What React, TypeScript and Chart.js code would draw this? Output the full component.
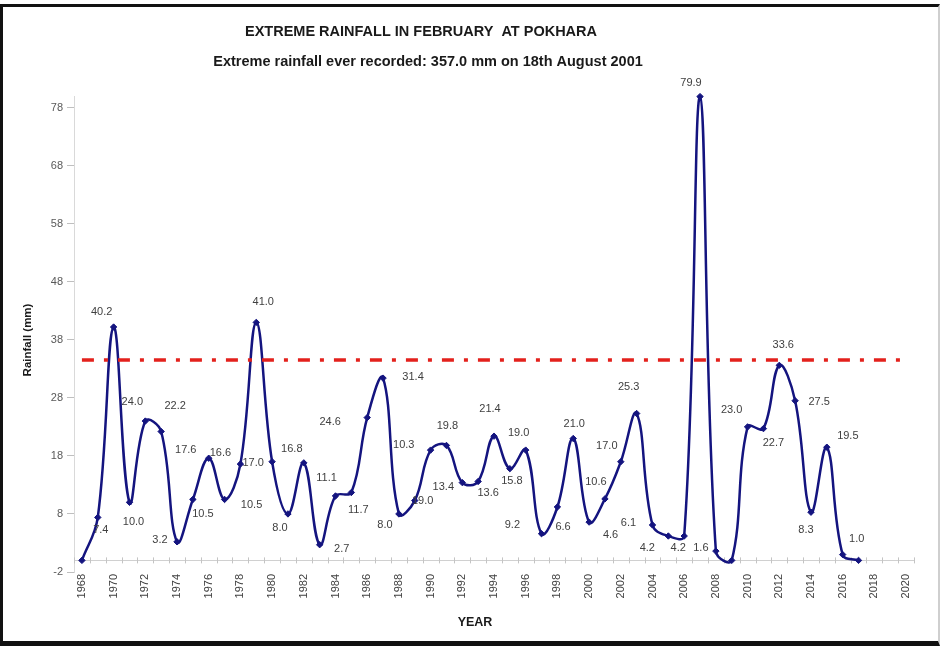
import React, { useEffect, useRef } from 'react';
import { Chart, registerables } from 'chart.js';

Chart.register(...registerables);

// ---------- data ----------
const years = [
  '1968', '1969', '1970', '1971', '1972', '1973', '1974', '1975', '1976', '1977',
  '1978', '1979', '1980', '1981', '1982', '1983', '1984', '1985', '1986', '1987',
  '1988', '1989', '1990', '1991', '1992', '1993', '1994', '1995', '1996', '1997',
  '1998', '1999', '2000', '2001', '2002', '2003', '2004', '2005', '2006', '2007',
  '2008', '2009', '2010', '2011', '2012', '2013', '2014', '2015', '2016', '2017',
  '2018', '2019', '2020',
];

// February extreme rainfall (mm), 1968 .. 2017
const rainfall = [
  0.0, 7.4, 40.2, 10.0, 24.0, 22.2, 3.2, 10.5, 17.6, 10.5,
  16.6, 41.0, 17.0, 8.0, 16.8, 2.7, 11.1, 11.7, 24.6, 31.4,
  8.0, 10.3, 19.0, 19.8, 13.4, 13.6, 21.4, 15.8, 19.0, 4.6,
  9.2, 21.0, 6.6, 10.6, 17.0, 25.3, 6.1, 4.2, 4.2, 79.9,
  1.6, 0.0, 23.0, 22.7, 33.6, 27.5, 8.3, 19.5, 1.0, 0.0,
];

const threshold = 34.5;
const thresholdSpan = ['1968', '2020'];

const yTicks = [-2, 8, 18, 28, 38, 48, 58, 68, 78];
const yMin = -2;
const yMax = 80;

const titleText = 'EXTREME RAINFALL IN FEBRUARY  AT POKHARA';
const subtitleText = 'Extreme rainfall ever recorded: 357.0 mm on 18th August 2001';
const yTitleText = 'Rainfall (mm)';
const xTitleText = 'YEAR';

// data-label placement relative to each point (px); null = no label
const labelOffsets: ([number, number] | null)[] = [
  null, [3, 13], [-12, -15], [4, 20], [-13, -19], [14, -26], [-17, -2], [10, 15], [-23, -8], [27, 6],
  [-20, -11], [7, -20], [-19, 1], [-8, 14], [-12, -14], [22, 4], [-9, -18], [7, 17], [-37, 4], [30, -1],
  [-14, 11], [-11, -56], [-8, 51], [1, -19], [-19, 4], [10, 12], [-4, -27], [2, 12], [-7, -17], [69, 1],
  [-45, 18], [1, -15], [-26, 5], [-9, -17], [-14, -16], [-8, -27], [-24, -2], [-21, 12], [-6, 12], [-9, -14],
  [-15, -3], null, [-16, -17], [10, 14], [4, -20], [24, 1], [-5, 18], [21, -11], [14, -16], null,
];

const FONT = '"Liberation Sans", Arial, sans-serif';
const NAVY = '#14147f';

const decorations = {
  id: 'decorations',
  beforeDatasetsDraw(chart: any) {
    const { ctx, chartArea, scales } = chart;
    const y0 = scales.y.getPixelForValue(0);
    ctx.save();
    ctx.strokeStyle = '#d0d0d0';
    ctx.lineWidth = 1;
    ctx.beginPath();
    ctx.moveTo(chartArea.left, Math.round(y0) + 0.5);
    ctx.lineTo(chartArea.right, Math.round(y0) + 0.5);
    ctx.stroke();
    const n = years.length;
    const step = (chartArea.right - chartArea.left) / n;
    ctx.strokeStyle = '#c4c4c4';
    ctx.beginPath();
    for (let i = 0; i <= n; i++) {
      const x = Math.round(chartArea.left + i * step) + 0.5;
      ctx.moveTo(x, y0 - 3);
      ctx.lineTo(x, y0 + 3);
    }
    ctx.stroke();
    ctx.restore();
  },
  afterDatasetsDraw(chart: any) {
    const { ctx } = chart;
    const meta = chart.getDatasetMeta(0);
    ctx.save();
    ctx.font = `11px ${FONT}`;
    ctx.fillStyle = '#404040';
    ctx.textAlign = 'center';
    ctx.textBaseline = 'middle';
    meta.data.forEach((pt: any, i: number) => {
      const off = labelOffsets[i];
      if (!off) return;
      ctx.fillText(rainfall[i].toFixed(1), pt.x + off[0], pt.y + off[1]);
    });
    ctx.restore();
  },
  afterDraw(chart: any) {
    const { ctx } = chart;
    ctx.save();
    ctx.fillStyle = '#1a1a1a';
    ctx.textAlign = 'center';
    ctx.textBaseline = 'middle';
    ctx.font = `bold 14.5px ${FONT}`;
    ctx.fillText(titleText, 421, 32);
    ctx.font = `bold 14.5px ${FONT}`;
    ctx.fillText(subtitleText, 428, 62);
    ctx.font = `bold 12.5px ${FONT}`;
    ctx.fillText(xTitleText, 475, 623);
    ctx.translate(28, 340);
    ctx.rotate(-Math.PI / 2);
    ctx.font = `bold 11.5px ${FONT}`;
    ctx.fillText(yTitleText, 0, 0);
    ctx.restore();
  },
};

export default function App() {
  const canvasRef = useRef<HTMLCanvasElement | null>(null);

  useEffect(() => {
    const canvas = canvasRef.current;
    if (!canvas) return;
    const chart = new Chart(canvas, {
      type: 'line',
      data: {
        labels: years,
        datasets: [
          {
            label: 'Rainfall',
            data: rainfall,
            borderColor: NAVY,
            backgroundColor: NAVY,
            borderWidth: 2.5,
            tension: 0.4,
            pointStyle: 'rectRot',
            pointRadius: 3.2,
            pointBackgroundColor: NAVY,
            pointBorderColor: NAVY,
            pointBorderWidth: 1,
            clip: false as any,
            order: 2,
          },
          {
            label: 'Threshold',
            data: thresholdSpan.map((x) => ({ x, y: threshold })) as any,
            borderColor: '#e3211c',
            borderWidth: 3.5,
            borderDash: [12, 10, 4, 10],
            pointRadius: 0,
            tension: 0,
            order: 1,
          },
        ],
      },
      plugins: [decorations],
      options: {
        responsive: false,
        animation: false,
        events: [],
        layout: { padding: { left: 34, right: 27, top: 96, bottom: 0 } },
        plugins: {
          legend: { display: false },
          tooltip: { enabled: false },
          title: { display: false },
        },
        scales: {
          x: {
            type: 'category',
            offset: true,
            grid: { display: false, drawTicks: false },
            border: { display: false },
            ticks: {
              autoSkip: false,
              maxRotation: 90,
              minRotation: 90,
              padding: 2,
              color: '#404040',
              font: { size: 11, family: FONT },
              callback: (_v: any, i: number) => (i % 2 === 0 ? years[i] : ''),
            },
            afterFit: (scale: any) => {
              scale.height = 74;
            },
          },
          y: {
            type: 'linear',
            min: yMin,
            max: yMax,
            afterBuildTicks: (scale: any) => {
              scale.ticks = yTicks.map((value) => ({ value }));
            },
            grid: {
              drawOnChartArea: false,
              drawTicks: true,
              tickLength: 7,
              color: '#bfbfbf',
            },
            border: { display: true, color: '#d9d9d9', width: 1 },
            ticks: {
              padding: 4,
              color: '#595959',
              font: { size: 11, family: FONT },
              callback: (v: any) => String(v),
            },
            afterFit: (scale: any) => {
              scale.width = 40;
            },
          },
        },
      },
    });
    return () => chart.destroy();
  }, []);

  return (
    <div style={{ position: 'fixed', left: 0, top: 0, width: 941, height: 646, background: '#fff' }}>
      <canvas ref={canvasRef} width={941} height={646} style={{ position: 'absolute', left: 0, top: 0, width: 941, height: 646 }} />
      <div
        style={{
          position: 'absolute',
          left: 0,
          top: 4,
          width: 940,
          height: 642,
          boxSizing: 'border-box',
          borderTop: '3px solid #111',
          borderLeft: '3px solid #111',
          borderBottom: '5px solid #111',
          borderRight: '2px solid #cfcfcf',
          pointerEvents: 'none',
        }}
      />
    </div>
  );
}
